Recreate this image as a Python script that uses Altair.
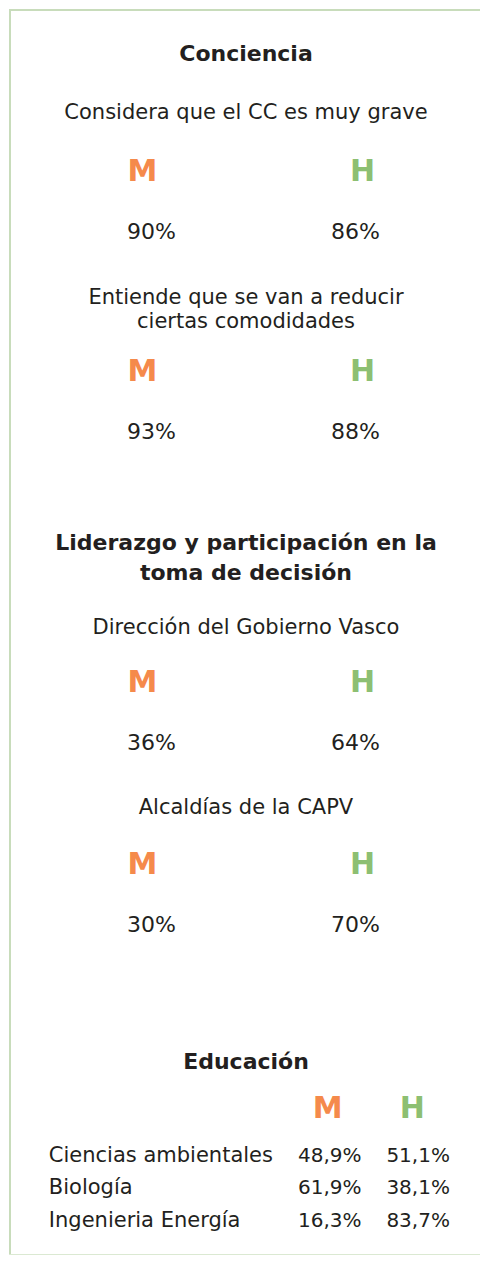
import altair as alt
import pandas as pd

# ---------------- data ----------------
sexes = ["M", "H"]
section_titles = [["Conciencia"],
                  ["Liderazgo y participación en la", "toma de decisión"],
                  ["Educación"]]
indicator_labels = [["Considera que el CC es muy grave"],
                    ["Entiende que se van a reducir", "ciertas comodidades"],
                    ["Dirección del Gobierno Vasco"],
                    ["Alcaldías de la CAPV"]]
indicator_m = [90, 93, 36, 30]
indicator_h = [86, 88, 64, 70]
edu_fields = ["Ciencias ambientales", "Biología", "Ingenieria Energía"]
edu_m = [48.9, 61.9, 16.3]
edu_h = [51.1, 38.1, 83.7]

# ---------------- layout ----------------
W, H = 472, 1247
FONT = "DejaVu Sans"
DARK = "#231f20"
ORANGE = "#f58a4b"
GREEN = "#8dbf72"
BORDER = "#c8dcbb"

title_y = [[45], [535, 565], [1055]]
ind_label_y = [[104], [289, 314], [620], [800]]
ind_letter_y = [163, 364, 675, 857]
ind_pct_y = [223, 424, 735, 917]
letter_x = {"M": 134, "H": 355}
pct_x = {"M": 143, "H": 348}
edu_letter_y = 1102
edu_letter_x = {"M": 320, "H": 405}
edu_row_y = [1149, 1181, 1214]
edu_label_x = 40
edu_m_x = 354
edu_h_x = 379
center_x = 238

# ---------------- tables ----------------
titles = pd.DataFrame([
    {"t": line, "x": center_x, "y": yy}
    for lines, ys in zip(section_titles, title_y) for line, yy in zip(lines, ys)
])
labels = pd.DataFrame([
    {"t": line, "x": center_x, "y": yy}
    for lines, ys in zip(indicator_labels, ind_label_y) for line, yy in zip(lines, ys)
])
letters = pd.DataFrame(
    [{"t": s, "sex": s, "x": letter_x[s], "y": yy} for yy in ind_letter_y for s in sexes]
    + [{"t": s, "sex": s, "x": edu_letter_x[s], "y": edu_letter_y} for s in sexes]
)
pcts = pd.DataFrame(
    [{"t": f"{m}%", "x": pct_x["M"], "y": yy} for m, yy in zip(indicator_m, ind_pct_y)]
    + [{"t": f"{h}%", "x": pct_x["H"], "y": yy} for h, yy in zip(indicator_h, ind_pct_y)]
)
fmt = lambda v: f"{v:.1f}%".replace(".", ",")
edu_lab = pd.DataFrame([{"t": f, "x": edu_label_x, "y": yy} for f, yy in zip(edu_fields, edu_row_y)])
edu_mv = pd.DataFrame([{"t": fmt(v), "x": edu_m_x, "y": yy} for v, yy in zip(edu_m, edu_row_y)])
edu_hv = pd.DataFrame([{"t": fmt(v), "x": edu_h_x, "y": yy} for v, yy in zip(edu_h, edu_row_y)])

xs = alt.Scale(domain=[0, W], nice=False, zero=False)
ys = alt.Scale(domain=[0, H], nice=False, zero=False, reverse=True)


def txt(df, size, weight="normal", align="center", color=DARK):
    return alt.Chart(df).mark_text(
        font=FONT, fontSize=size, fontWeight=weight, align=align,
        baseline="middle", color=color
    ).encode(
        x=alt.X("x:Q", scale=xs, axis=None),
        y=alt.Y("y:Q", scale=ys, axis=None),
        text="t:N",
    )


layer_titles = txt(titles, 22, "bold")
layer_labels = txt(labels, 21)
layer_letters = alt.Chart(letters).mark_text(
    font=FONT, fontSize=30, fontWeight="bold", align="center", baseline="middle"
).encode(
    x=alt.X("x:Q", scale=xs, axis=None),
    y=alt.Y("y:Q", scale=ys, axis=None),
    text="t:N",
    color=alt.Color("sex:N", scale=alt.Scale(domain=sexes, range=[ORANGE, GREEN]), legend=None),
)
layer_pcts = txt(pcts, 22)
layer_edu_lab = txt(edu_lab, 21, align="left")
layer_edu_m = txt(edu_mv, 20, align="right")
layer_edu_h = txt(edu_hv, 20, align="left")

left_border = alt.Chart(titles.head(1)).mark_rule(color=BORDER, strokeWidth=2).encode(
    x=alt.value(1), y=alt.value(0), y2=alt.value(H))
top_border = alt.Chart(titles.head(1)).mark_rule(color=BORDER, strokeWidth=2).encode(
    x=alt.value(0), x2=alt.value(W), y=alt.value(1))
bottom_border = alt.Chart(titles.head(1)).mark_rule(color="#dbe9d2", strokeWidth=2).encode(
    x=alt.value(0), x2=alt.value(W), y=alt.value(H - 1))

chart = alt.layer(
    left_border, top_border, bottom_border,
    layer_titles, layer_labels, layer_letters, layer_pcts,
    layer_edu_lab, layer_edu_m, layer_edu_h,
).properties(
    width=W, height=H, padding=0,
    autosize=alt.AutoSizeParams(type="fit", contains="padding"),
    background="white",
).configure_view(strokeWidth=0, stroke="transparent")

chart.save("out.html", embed_options={"renderer": "svg", "actions": False})
